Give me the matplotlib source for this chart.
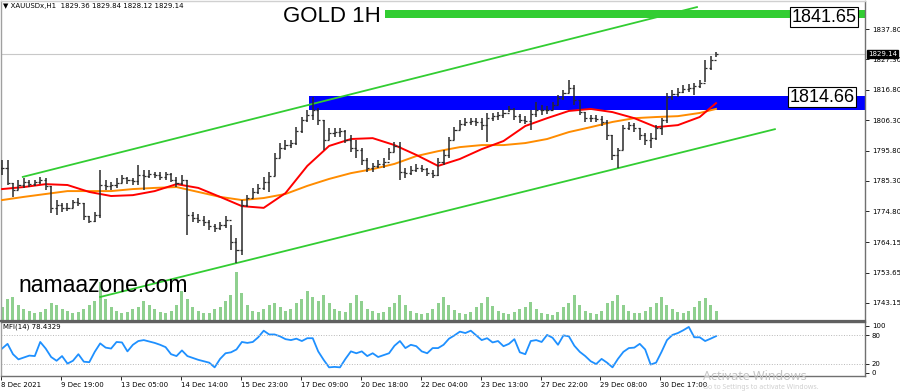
import matplotlib
matplotlib.use("Agg")
import matplotlib.pyplot as plt
import matplotlib.transforms as mtransforms
import numpy as np

# ---- data (3-hour bars) ----
highs = [1792.5, 1792.5, 1784.6, 1785.6, 1786.3, 1785.6, 1785.6, 1786.7, 1786.3, 1783.6,
         1778.7, 1777.7, 1777.7, 1778.7, 1779.4, 1777.7, 1773.2, 1774.6, 1789.1, 1785.6,
         1784.9, 1786.3, 1787.4, 1786.7, 1786.3, 1790.8, 1789.1, 1789.1, 1788.4, 1788.4,
         1788.4, 1788.0, 1786.7, 1787.4, 1785.6, 1774.6, 1773.9, 1773.2, 1771.8, 1770.4,
         1771.1, 1773.2, 1770.1, 1765.6, 1778.7, 1780.4, 1782.9, 1784.2, 1786.7, 1788.4,
         1795.0, 1798.4, 1799.4, 1799.4, 1803.9, 1807.4, 1809.8, 1814.3, 1810.5, 1806.4,
         1803.6, 1803.6, 1803.6, 1802.9, 1801.2, 1799.4, 1796.7, 1793.2, 1791.5, 1792.5,
         1793.2, 1796.7, 1798.8, 1798.8, 1789.8, 1790.5, 1791.2, 1790.8, 1789.8, 1789.1,
         1793.2, 1796.0, 1800.5, 1803.9, 1806.4, 1807.0, 1807.0, 1807.0, 1807.0, 1808.8,
         1808.8, 1809.1, 1809.8, 1811.2, 1810.5, 1808.4, 1807.7, 1809.8, 1812.6, 1811.5,
         1811.2, 1812.6, 1815.0, 1816.7, 1820.2, 1818.4, 1813.3, 1809.1, 1808.1, 1808.1,
         1807.7, 1806.4, 1801.2, 1796.7, 1804.6, 1805.7, 1805.3, 1803.6, 1801.9, 1801.9,
         1804.6, 1807.0, 1815.7, 1816.7, 1817.4, 1818.4, 1818.8, 1819.1, 1820.2, 1827.1,
         1828.5, 1829.84]
lows = [1787.4, 1783.9, 1779.8, 1782.2, 1782.9, 1783.2, 1783.6, 1784.2, 1782.2, 1774.2,
        1773.5, 1774.6, 1774.9, 1776.0, 1776.6, 1771.8, 1770.8, 1771.1, 1772.5, 1782.2,
        1782.2, 1782.9, 1784.6, 1784.2, 1783.9, 1783.9, 1782.2, 1786.3, 1786.3, 1785.6,
        1785.6, 1784.9, 1783.2, 1783.9, 1766.6, 1771.1, 1770.8, 1769.7, 1768.4, 1767.7,
        1768.4, 1769.0, 1761.5, 1757.0, 1759.7, 1776.3, 1779.4, 1780.8, 1782.2, 1781.5,
        1787.0, 1793.2, 1796.0, 1796.7, 1797.7, 1801.9, 1805.7, 1806.4, 1804.6, 1796.0,
        1799.4, 1800.5, 1800.5, 1798.4, 1795.3, 1793.2, 1790.8, 1788.4, 1788.4, 1789.8,
        1789.8, 1792.5, 1795.3, 1785.6, 1786.3, 1787.4, 1788.4, 1788.4, 1787.0, 1786.3,
        1787.0, 1790.8, 1793.2, 1799.4, 1802.9, 1804.3, 1804.6, 1804.3, 1802.9, 1798.8,
        1806.0, 1806.4, 1807.0, 1809.1, 1806.4, 1805.3, 1805.0, 1802.9, 1807.4, 1808.1,
        1808.4, 1809.8, 1811.5, 1813.3, 1815.7, 1811.5, 1808.1, 1805.7, 1805.7, 1805.7,
        1804.3, 1799.4, 1792.5, 1789.8, 1796.0, 1802.9, 1802.2, 1799.4, 1797.7, 1796.7,
        1799.4, 1801.2, 1805.3, 1813.3, 1814.3, 1815.7, 1816.0, 1815.0, 1817.4, 1819.5,
        1823.6, 1828.12]
closes = [1789.8, 1784.6, 1782.2, 1783.9, 1784.9, 1784.2, 1784.9, 1785.6, 1783.6, 1776.0,
          1777.0, 1776.0, 1776.0, 1778.0, 1777.7, 1773.2, 1771.5, 1773.5, 1783.9, 1783.6,
          1783.9, 1784.6, 1786.3, 1785.6, 1785.3, 1787.4, 1787.0, 1787.7, 1787.4, 1786.7,
          1787.7, 1785.6, 1784.6, 1785.6, 1773.5, 1772.5, 1771.8, 1771.1, 1769.7, 1769.0,
          1770.1, 1771.8, 1764.2, 1761.5, 1777.0, 1779.4, 1781.5, 1782.9, 1784.9, 1787.0,
          1793.2, 1796.7, 1797.7, 1798.4, 1802.6, 1806.4, 1808.1, 1809.8, 1806.4, 1799.4,
          1801.9, 1802.2, 1802.6, 1799.4, 1796.7, 1796.0, 1792.5, 1789.8, 1790.5, 1791.2,
          1791.8, 1795.3, 1797.4, 1788.4, 1788.0, 1789.1, 1789.8, 1789.4, 1788.0, 1787.4,
          1791.8, 1794.3, 1799.4, 1802.9, 1805.0, 1805.7, 1806.0, 1805.7, 1804.6, 1807.0,
          1807.7, 1808.1, 1808.8, 1810.2, 1807.7, 1806.4, 1806.0, 1808.4, 1809.8, 1809.8,
          1809.8, 1811.5, 1814.0, 1815.7, 1817.4, 1813.3, 1809.1, 1807.0, 1807.0, 1806.7,
          1805.7, 1801.2, 1794.3, 1796.0, 1803.6, 1804.6, 1803.6, 1801.2, 1799.4, 1800.1,
          1803.6, 1806.4, 1814.3, 1815.3, 1816.0, 1817.1, 1817.4, 1818.1, 1819.1, 1824.3,
          1827.1, 1829.14]
volumes = [1400, 2200, 2400, 1600, 1200, 1000, 800, 900,
           1200, 1800, 1600, 1200, 1000, 800, 900, 1200,
           1600, 2000, 3900, 2200, 1400, 1000, 800, 900,
           1200, 1400, 2000, 1600, 1200, 900, 800, 1000,
           1600, 3000, 2200, 1400, 1000, 800, 800, 1200,
           1400, 2000, 2600, 4900, 2800, 1600, 1000, 900,
           1200, 1600, 1800, 1400, 1000, 1200, 1800, 2200,
           3000, 2400, 2000, 2600, 1800, 1200, 1000, 900,
           1800, 2600, 2000, 1200, 1000, 800, 900, 1400,
           1800, 2600, 1600, 1000, 800, 700, 800, 1200,
           1800, 2400, 1600, 1100, 800, 700, 900, 1400,
           1800, 2400, 1500, 1000, 800, 700, 900, 1200,
           1400, 1900, 1200, 800, 700, 600, 900, 1400,
           1800, 2600, 1600, 1000, 800, 700, 1000, 1800,
           2000, 2600, 1600, 1000, 800, 800, 1000, 1400,
           1800, 2400, 1600, 1200, 900, 800, 1000, 1400,
           2000, 2300, 1600, 1000]
mfi = [52, 62, 40, 29, 33, 37, 36, 66, 52, 34,
       26, 36, 20, 26, 40, 24, 23, 45, 63, 54,
       52, 66, 65, 46, 60, 68, 70, 67, 64, 60,
       55, 40, 36, 48, 36, 32, 28, 25, 22, 12,
       30, 42, 44, 50, 66, 64, 66, 76, 90, 82,
       82, 78, 72, 70, 73, 68, 74, 74, 46, 28,
       12, 13, 12, 30, 46, 42, 46, 36, 42, 34,
       38, 42, 58, 68, 53, 60, 57, 46, 42, 53,
       53, 60, 73, 80, 88, 85, 90, 80, 70, 74,
       65, 68, 57, 62, 72, 44, 40, 68, 70, 66,
       81, 75, 60, 80, 78, 58, 45, 36, 25, 19,
       30, 22, 12, 30, 45, 53, 54, 62, 50, 18,
       22, 45, 70, 81, 85, 91, 98, 76, 76, 68,
       73, 78.4329]
# moving averages, one value every 4 bars (+ last bar)
ma_fast = [1782.5, 1783.2, 1784.2, 1783.9, 1781.5, 1780.1, 1780.4, 1781.8, 1784.2, 1782.9,
           1779.8, 1776.6, 1776.0, 1781.1, 1790.5, 1797.4, 1799.8, 1800.1, 1797.7, 1794.3,
           1790.5, 1792.9, 1796.3, 1799.1, 1804.3, 1807.0, 1809.5, 1810.2, 1809.1, 1807.0,
           1803.9, 1804.6, 1807.4, 1812.2]
ma_slow = [1778.7, 1779.8, 1780.8, 1781.8, 1781.8, 1781.8, 1782.5, 1782.9, 1783.2, 1781.5,
           1779.8, 1778.7, 1779.4, 1780.8, 1783.6, 1786.0, 1788.0, 1789.4, 1791.2, 1793.9,
           1795.6, 1797.0, 1797.7, 1797.7, 1798.4, 1799.8, 1802.2, 1803.9, 1805.7, 1807.0,
           1807.4, 1807.7, 1808.8, 1810.2]
# trend channel (bar, price) end points
upper_bars, upper_prices = [3.8, 127.5], [1786.7, 1845.4]
lower_bars, lower_prices = [18.0, 141.8], [1745.2, 1803.2]
# zones
target_zone = (1841.65, 1844.4)
support_zone = (1809.9, 1814.66)
price_ticks = [1837.80, 1827.30, 1816.80, 1806.30, 1795.80, 1785.30,
               1774.80, 1764.15, 1753.65, 1743.15]
date_labels = ["8 Dec 2021", "9 Dec 19:00", "13 Dec 05:00", "14 Dec 14:00",
               "15 Dec 23:00", "17 Dec 09:00", "20 Dec 18:00", "22 Dec 04:00",
               "23 Dec 13:00", "27 Dec 22:00", "29 Dec 08:00", "30 Dec 17:00"]

n = len(closes)
idx = np.arange(n)
opens = [closes[0]] + closes[:-1]
ma_idx = list(range(0, n, 4)) + [n - 1]

W, H = 900, 392
fig = plt.figure(figsize=(9, 3.92), dpi=100)
fig.patch.set_facecolor("white")
xlim = (-0.2, -0.2 + 864 / 5.45)

rect_main = [1 / W, 1 - 321 / H, 864 / W, 320 / H]
axv = fig.add_axes(rect_main)
ax = fig.add_axes(rect_main)
ax.set_zorder(2)
ax.patch.set_visible(False)

# volumes
axv.bar(idx, volumes, width=0.55, color="#8fd08f", linewidth=0)
axv.set_xlim(xlim)
axv.set_ylim(0, 32100)
axv.axis("off")

# price bars
ax.axhline(closes[-1], color="#c8c8c8", lw=0.8, zorder=0)
ax.fill_between([70.3, xlim[1]], *target_zone, color="#32cd32", lw=0, zorder=1)
ax.fill_between([56.3, xlim[1]], *support_zone, color="#0000ff", lw=0, zorder=1)
ax.plot(upper_bars, upper_prices, color="#32cd32", lw=1.3, zorder=2)
ax.plot(lower_bars, lower_prices, color="#32cd32", lw=1.3, zorder=2)
ax.plot(ma_idx, ma_slow, color="#ff8c00", lw=1.4, zorder=3)
ax.plot(ma_idx, ma_fast, color="#ff0000", lw=1.4, zorder=3)
ax.vlines(idx, lows, highs, color="#2a2a2a", lw=1.1, zorder=4)
ax.hlines(opens, idx - 0.38, idx, color="#2a2a2a", lw=0.9, zorder=4)
ax.hlines(closes, idx, idx + 0.38, color="#2a2a2a", lw=0.9, zorder=4)

ax.set_xlim(xlim)
ax.set_ylim(1736.9, 1847.5)
ax.set_xticks([])
ax.yaxis.tick_right()
ax.set_yticks(price_ticks)
ax.set_yticklabels([f"{v:.2f}" for v in price_ticks], fontsize=5)
ax.tick_params(axis="y", length=3, width=0.6, pad=2)
for s, c, w in [("right", "#707070", 1.0), ("left", "#a0a0a0", 1.0),
                ("top", "#d0d0d0", 1.0), ("bottom", "#606060", 1.6)]:
    ax.spines[s].set_color(c)
    ax.spines[s].set_linewidth(w)

trans = mtransforms.blended_transform_factory(ax.transAxes, ax.transData)
ax.text(1.004, closes[-1], f"{closes[-1]:.2f}", transform=trans, fontsize=5,
        color="white", va="center", ha="left",
        bbox=dict(boxstyle="square,pad=0.15", fc="black", ec="black"))

# MFI panel
ax2 = fig.add_axes([1 / W, 1 - 376 / H, 864 / W, 54 / H])
ax2.plot(idx, mfi, color="#1e90ff", lw=1.3)
ax2.axhline(80, color="#b8b8b8", lw=0.7, ls=":")
ax2.axhline(20, color="#b8b8b8", lw=0.7, ls=":")
ax2.set_xlim(xlim)
ax2.set_ylim(-6.4, 108.5)
ax2.yaxis.tick_right()
ax2.set_yticks([0, 20, 80, 100])
ax2.set_yticklabels(["0", "20", "80", "100"], fontsize=5)
ax2.tick_params(axis="y", length=3, width=0.6, pad=2)
ax2.set_xticks([k * 11 - 0.2 for k in range(len(date_labels))])
ax2.set_xticklabels(date_labels, fontsize=5, ha="left")
ax2.tick_params(axis="x", length=3, width=0.6, pad=1.5)
for s, c, w in [("right", "#707070", 1.0), ("left", "#a0a0a0", 1.0),
                ("top", "#606060", 1.0), ("bottom", "#707070", 1.0)]:
    ax2.spines[s].set_color(c)
    ax2.spines[s].set_linewidth(w)

# annotations
fig.text(3 / W, 1 - 6 / H, "\u25bc XAUUSDx,H1  1829.36 1829.84 1828.12 1829.14",
         fontsize=5, va="center")
fig.text(3 / W, 1 - 327 / H, f"MFI(14) {mfi[-1]:.4f}", fontsize=5, va="center")
fig.text(283 / W, 1 - 17 / H, "GOLD 1H", fontsize=16, family="Liberation Sans",
         va="center")
box = dict(boxstyle="square,pad=0.1", fc="white", ec="black", lw=0.8)
fig.text(824 / W, 1 - 17 / H, f"{target_zone[0]:.2f}", fontsize=13,
         family="Liberation Sans", ha="center", va="center", bbox=box)
fig.text(822 / W, 1 - 97 / H, f"{support_zone[1]:.2f}", fontsize=13,
         family="Liberation Sans", ha="center", va="center", bbox=box)
fig.text(18 / W, 1 - 286 / H, "namaazone.com", fontsize=16.5,
         family="Liberation Sans", va="center")
fig.text(703 / W, 1 - 377 / H, "Activate Windows", fontsize=9, color="#c4c4c4",
         family="Noto Sans", va="center")
fig.text(703 / W, 1 - 387.5 / H, "Go to Settings to activate Windows.", fontsize=5,
         color="#cfcfcf", family="Noto Sans", va="center")

fig.savefig("out.png", dpi=100)
